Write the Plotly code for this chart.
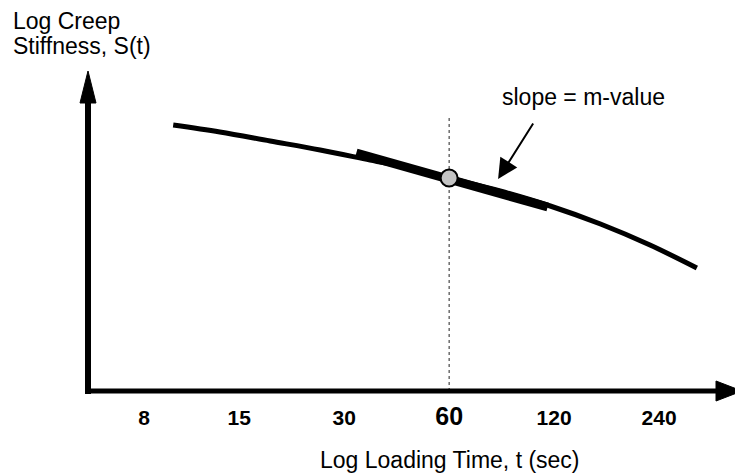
import numpy as np
import plotly.graph_objects as go

# creep curve (t in sec, log S in arbitrary units)
curve_t = [9.7, 13.2, 18.4, 25.6, 35.6, 49.5, 60, 84, 117, 163, 226, 308]
curve_logS = [2.66, 2.59, 2.50, 2.41, 2.31, 2.21, 2.13, 2.00, 1.85, 1.67, 1.46, 1.23]

# tangent at t = 60 s
tangent_t = [32.5, 115]
tangent_logS = [2.38, 1.84]

point_t = [60]
point_logS = [2.13]

tick_vals = [8, 15, 30, 60, 120, 240]
tick_text = ["8", "15", "30", "<span style='font-size:25px'>60</span>", "120", "240"]

FONT = "Liberation Sans, Arial, sans-serif"

# page body has an 8px margin, so the figure is sized/offset to compensate
PLOT_L, PLOT_T, PLOT_W, PLOT_H = 87, 71, 655, 320


def px_x(p):
    return (p - PLOT_L) / PLOT_W


def px_y(p):
    return (PLOT_T + PLOT_H - p) / PLOT_H


fig = go.Figure()

# dotted guide at 60 s
fig.add_trace(go.Scatter(x=[60, 60], y=[0, 2.76], mode="lines",
                         line=dict(color="#222", width=1, dash="dot"),
                         hoverinfo="skip"))
fig.add_trace(go.Scatter(x=curve_t, y=curve_logS, mode="lines",
                         line=dict(color="black", width=5, shape="spline"),
                         name="S(t)"))
fig.add_trace(go.Scatter(x=tangent_t, y=tangent_logS, mode="lines",
                         line=dict(color="black", width=9),
                         name="tangent"))
fig.add_trace(go.Scatter(x=point_t, y=point_logS, mode="markers",
                         marker=dict(size=17, color="#c4c4c4",
                                     line=dict(color="black", width=2)),
                         name="60 s"))

# axes drawn as thick lines with arrow heads
axis_shapes = [
    dict(type="line", xref="paper", yref="paper", x0=px_x(88), x1=px_x(88),
         y0=px_y(394), y1=px_y(100), line=dict(color="black", width=6)),
    dict(type="path", xref="paper", yref="paper",
         path=f"M {px_x(80)},{px_y(103)} L {px_x(96)},{px_y(103)} L {px_x(88)},{px_y(71)} Z",
         fillcolor="black", line=dict(color="black", width=1)),
    dict(type="line", xref="paper", yref="paper", x0=px_x(85), x1=px_x(718),
         y0=px_y(391), y1=px_y(391), line=dict(color="black", width=5)),
    dict(type="path", xref="paper", yref="paper",
         path=f"M {px_x(716)},{px_y(381)} L {px_x(716)},{px_y(401)} L {px_x(742)},{px_y(391)} Z",
         fillcolor="black", line=dict(color="black", width=1)),
]

fig.update_layout(
    width=735, height=465,
    margin=dict(l=PLOT_L - 8, r=1, t=PLOT_T - 8, b=465 - (PLOT_T - 8) - PLOT_H),
    paper_bgcolor="white", plot_bgcolor="white",
    showlegend=False,
    font=dict(family=FONT, color="black"),
    shapes=axis_shapes,
    xaxis=dict(type="log", range=[np.log10(5.49), np.log10(415)],
               tickvals=tick_vals, ticktext=tick_text,
               tickfont=dict(size=21, family=FONT, weight="bold"),
               ticks="", ticklabelstandoff=12,
               showgrid=False, zeroline=False, showline=False),
    yaxis=dict(range=[0, 3.2], showticklabels=False, ticks="",
               showgrid=False, zeroline=False, showline=False),
    annotations=[
        # slope label and its arrow
        dict(x=px_x(583), y=px_y(97), xref="paper", yref="paper", text="slope = m-value",
             showarrow=False, xanchor="center", yanchor="middle",
             font=dict(size=23, family=FONT)),
        dict(x=np.log10(82.9), y=2.12, xref="x", yref="y", text="",
             showarrow=True, ax=36, ay=-57, arrowhead=2, arrowsize=2,
             arrowwidth=2, arrowcolor="black"),
        # axis titles
        dict(x=px_x(450), y=px_y(460), xref="paper", yref="paper",
             text="Log Loading Time, t (sec)", showarrow=False,
             xanchor="center", yanchor="middle", font=dict(size=23, family=FONT)),
        dict(x=px_x(11), y=px_y(21), xref="paper", yref="paper",
             text="Log Creep", showarrow=False,
             xanchor="left", yanchor="middle", font=dict(size=23, family=FONT)),
        dict(x=px_x(11), y=px_y(46), xref="paper", yref="paper",
             text="Stiffness, S(t)", showarrow=False,
             xanchor="left", yanchor="middle", font=dict(size=23, family=FONT)),
    ],
)

fig.write_html("out.html")
